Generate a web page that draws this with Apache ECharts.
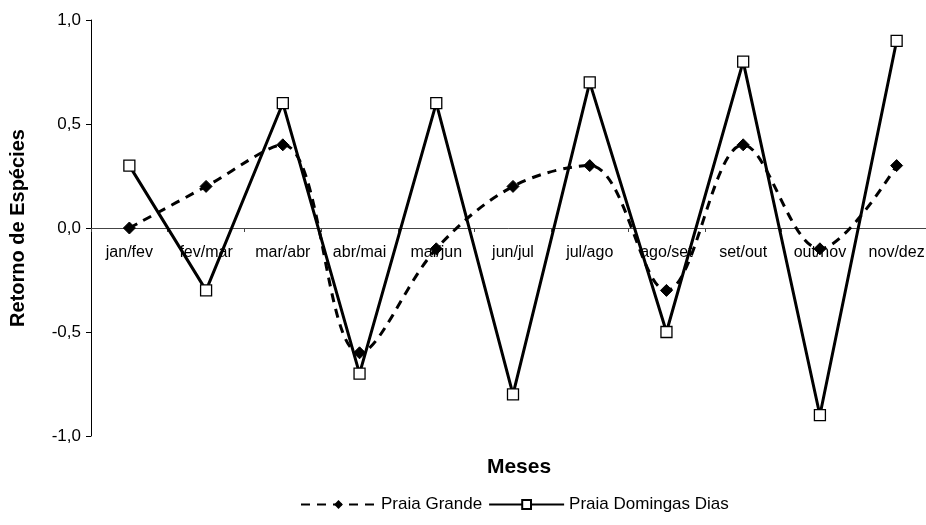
<!DOCTYPE html>
<html><head><meta charset="utf-8">
<script src="https://cdn.jsdelivr.net/npm/echarts@6/dist/echarts.min.js"></script>
<style>html,body{margin:0;padding:0;background:#fff}#c{width:926px;height:525px}</style>
</head><body><div id="c"></div>
<script>
const categories = ['jan/fev','fev/mar','mar/abr','abr/mai','mai/jun','jun/jul','jul/ago','ago/set','set/out','out/nov','nov/dez'];
const praiaGrande = [0, 0.2, 0.4, -0.6, -0.1, 0.2, 0.3, -0.3, 0.4, -0.1, 0.3];
const praiaDomingasDias = [0.3, -0.3, 0.6, -0.7, 0.6, -0.8, 0.7, -0.5, 0.8, -0.9, 0.9];
const yTicks = {min: -1, max: 1, interval: 0.5};

const font = '"Liberation Sans", Arial, sans-serif';
const chart = echarts.init(document.getElementById('c'), null, {renderer: 'canvas'});
chart.setOption({
  backgroundColor: '#fff',
  animation: false,
  grid: {left: 91, right: -9, top: 20, bottom: 89, containLabel: false, outerBoundsMode: 'none'},
  xAxis: {
    type: 'category',
    data: categories,
    boundaryGap: true,
    position: 'bottom',
    offset: -208,
    name: 'Meses',
    nameLocation: 'middle',
    nameGap: 229,
    nameTextStyle: {fontFamily: font, fontSize: 21, fontWeight: 'bold', color: '#000', padding: [0, 0, 0, 12]},
    axisLine: {onZero: false, lineStyle: {color: '#444', width: 1}},
    axisTick: {show: true, length: 4, lineStyle: {color: '#444'}},
    axisLabel: {fontFamily: font, fontSize: 16, color: '#000', margin: 17, interval: 0},
    splitLine: {show: false}
  },
  yAxis: {
    type: 'value',
    min: yTicks.min, max: yTicks.max, interval: yTicks.interval,
    name: 'Retorno de Espécies',
    nameLocation: 'middle',
    nameGap: 63,
    nameTextStyle: {fontFamily: font, fontSize: 20, fontWeight: 'bold', color: '#000'},
    axisLine: {show: true, onZero: false, lineStyle: {color: '#000', width: 1}},
    axisTick: {show: true, length: 5, lineStyle: {color: '#000'}},
    axisLabel: {fontFamily: font, fontSize: 17, color: '#000', margin: 10,
      formatter: v => v.toFixed(1).replace('.', ',')},
    splitLine: {show: false}
  },
  legend: {
    bottom: 7,
    left: 295,
    itemWidth: 75,
    itemHeight: 11,
    itemGap: 6,
    textStyle: {fontFamily: font, fontSize: 17, color: '#000'},
    data: ['Praia Grande', 'Praia Domingas Dias']
  },
  series: [
    {
      name: 'Praia Grande',
      type: 'line',
      data: praiaGrande,
      smooth: 0.35,
      symbol: 'diamond',
      symbolSize: 12,
      itemStyle: {color: '#000', borderColor: '#000'},
      lineStyle: {color: '#000', width: 3, type: [9, 7]}
    },
    {
      name: 'Praia Domingas Dias',
      type: 'line',
      data: praiaDomingasDias,
      symbol: 'rect',
      symbolSize: 11,
      showAllSymbol: true,
      itemStyle: {color: '#fff', borderColor: '#000', borderWidth: 1.3},
      lineStyle: {color: '#000', width: 3}
    }
  ]
});
</script></body></html>
